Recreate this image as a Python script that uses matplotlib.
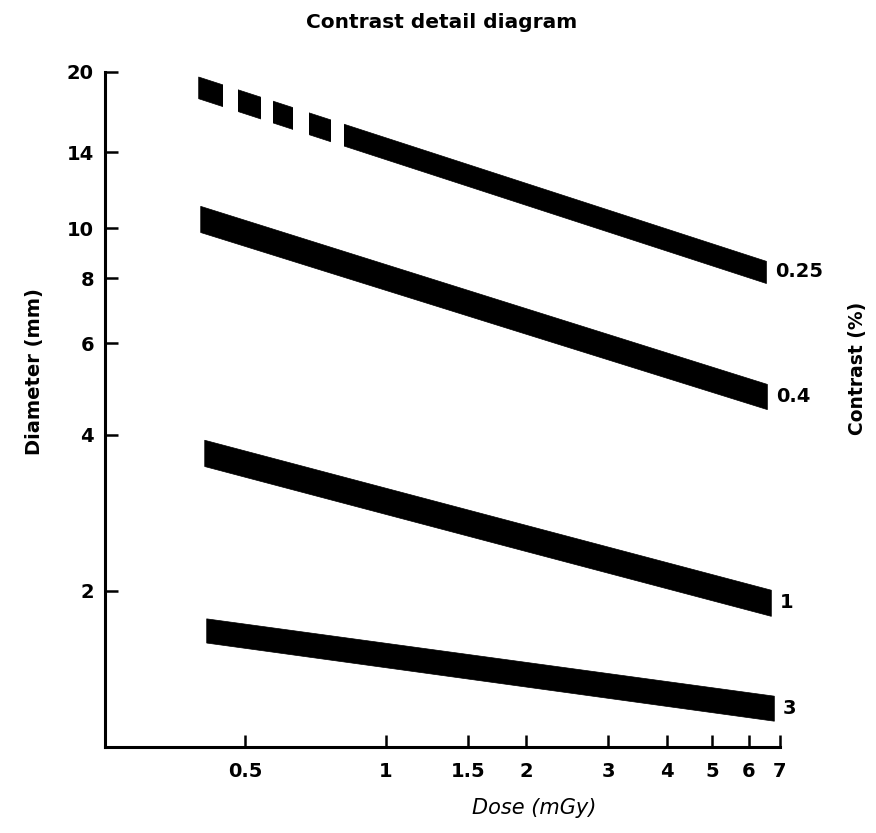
import numpy as np
import matplotlib
matplotlib.use("Agg")
import matplotlib.pyplot as plt
from matplotlib.path import Path
from matplotlib.patches import PathPatch

# contrast bands: dose at both ends, diameter upper/lower edge at both ends
contrasts = ["0.25", "0.4", "1", "3"]
dose_start = [0.396, 0.400, 0.408, 0.412]
dose_end = [6.53, 6.56, 6.69, 6.79]
upper_start = [19.6, 11.04, 3.91, 1.77]
lower_start = [17.8, 9.83, 3.48, 1.59]
upper_end = [8.65, 5.01, 2.01, 1.256]
lower_end = [7.84, 4.48, 1.79, 1.124]

# the 0.25 band is broken into dashes at low dose
dash_start = [0.396, 0.482, 0.573, 0.684, 0.813]
dash_end = [0.447, 0.540, 0.632, 0.763, 7.0]

x_ticks = [0.5, 1, 1.5, 2, 3, 4, 5, 6, 7]
x_labels = ["0.5", "1", "1.5", "2", "3", "4", "5", "6", "7"]
y_ticks = [2, 4, 6, 8, 10, 14, 20]

fig = plt.figure(figsize=(8.76, 8.33), dpi=100)
ax = fig.add_axes([0.1199, 0.1032, 0.7705, 0.8104])
ax.set_xscale("log")
ax.set_yscale("log")
ax.set_xlim(0.25, 7.0)
ax.set_ylim(1.0, 20)

for i, c in enumerate(contrasts):
    poly = ax.fill_between([dose_start[i], dose_end[i]],
                           [lower_start[i], lower_end[i]],
                           [upper_start[i], upper_end[i]],
                           color="black", lw=0.5)
    if i == 0:
        verts, codes = [], []
        for a, b in zip(dash_start, dash_end):
            verts += [(a, 0.5), (b, 0.5), (b, 40), (a, 40), (a, 0.5)]
            codes += [Path.MOVETO, Path.LINETO, Path.LINETO, Path.LINETO, Path.CLOSEPOLY]
        clip = PathPatch(Path(verts, codes), transform=ax.transData,
                         facecolor="none", edgecolor="none")
        ax.add_patch(clip)
        poly.set_clip_path(clip)
    ax.text(dose_end[i] * 1.045, (upper_end[i] * lower_end[i]) ** 0.5, c,
            fontsize=14, fontweight="bold", ha="left", va="center")

for s in ["top", "right"]:
    ax.spines[s].set_visible(False)
for s in ["left", "bottom"]:
    ax.spines[s].set_linewidth(2.2)

ax.set_xticks(x_ticks)
ax.set_xticklabels(x_labels)
ax.set_yticks(y_ticks)
ax.set_yticklabels([str(v) for v in y_ticks])
ax.minorticks_off()
ax.tick_params(axis="both", direction="in", length=9, width=1.8,
               labelsize=14)
ax.tick_params(axis="x", pad=11)
ax.tick_params(axis="y", pad=8)
for lab in ax.get_xticklabels() + ax.get_yticklabels():
    lab.set_fontweight("bold")

fig.text(0.504, 0.973, "Contrast detail diagram", ha="center", va="center",
         fontsize=14.5, fontweight="bold")
fig.text(0.610, 0.030, "Dose (mGy)", ha="center", va="center",
         fontsize=15, style="italic")
fig.text(0.039, 0.554, "Diameter (mm)", ha="center", va="center",
         rotation=90, fontsize=14, fontweight="bold")
fig.text(0.979, 0.558, "Contrast (%)", ha="center", va="center",
         rotation=90, fontsize=13.5, fontweight="bold")

fig.savefig("out.png", dpi=100)
